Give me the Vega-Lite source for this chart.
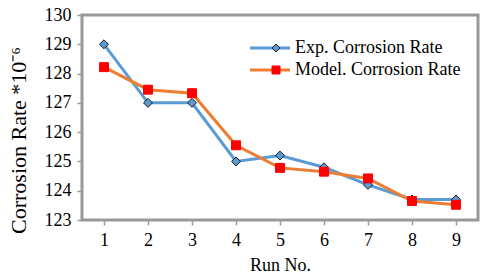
{
  "$schema": "https://vega.github.io/schema/vega-lite/v6.json",
  "width": 396,
  "height": 205,
  "autosize": {"type": "none"},
  "padding": {"left": 82, "top": 15, "right": 2, "bottom": 59},
  "background": "white",
  "config": {
    "font": "Liberation Serif",
    "view": {"stroke": "#999999", "strokeWidth": 3},
    "legend": {"labelFont": "Liberation Serif", "labelFontSize": 18, "labelColor": "#000000", "labelLimit": 300, "padding": 0, "rowPadding": 4},
    "axis": {"grid": false, "domain": false, "tickColor": "#999999", "tickWidth": 1.5, "tickSize": 5,
      "labelFont": "Liberation Serif", "labelFontSize": 18, "labelColor": "#000000",
      "titleFont": "Liberation Serif", "titleFontWeight": "normal", "titleColor": "#000000"}
  },
  "data": {"values": [
    {"run": 1, "series": "Exp. Corrosion Rate", "rate": 129.0},
    {"run": 2, "series": "Exp. Corrosion Rate", "rate": 127.0},
    {"run": 3, "series": "Exp. Corrosion Rate", "rate": 127.0},
    {"run": 4, "series": "Exp. Corrosion Rate", "rate": 125.0},
    {"run": 5, "series": "Exp. Corrosion Rate", "rate": 125.2},
    {"run": 6, "series": "Exp. Corrosion Rate", "rate": 124.8},
    {"run": 7, "series": "Exp. Corrosion Rate", "rate": 124.2},
    {"run": 8, "series": "Exp. Corrosion Rate", "rate": 123.7},
    {"run": 9, "series": "Exp. Corrosion Rate", "rate": 123.7},
    {"run": 1, "series": "Model. Corrosion Rate", "rate": 128.22},
    {"run": 2, "series": "Model. Corrosion Rate", "rate": 127.45},
    {"run": 3, "series": "Model. Corrosion Rate", "rate": 127.33},
    {"run": 4, "series": "Model. Corrosion Rate", "rate": 125.55},
    {"run": 5, "series": "Model. Corrosion Rate", "rate": 124.78},
    {"run": 6, "series": "Model. Corrosion Rate", "rate": 124.65},
    {"run": 7, "series": "Model. Corrosion Rate", "rate": 124.42},
    {"run": 8, "series": "Model. Corrosion Rate", "rate": 123.65},
    {"run": 9, "series": "Model. Corrosion Rate", "rate": 123.52}
  ]},
  "encoding": {
    "x": {"field": "run", "type": "quantitative",
      "scale": {"domain": [0.5, 9.5], "nice": false, "zero": false},
      "axis": {"values": [1, 2, 3, 4, 5, 6, 7, 8, 9], "format": "d", "labelPadding": 6,
        "title": "Run No.", "titleFontSize": 18, "titlePadding": 7}},
    "y": {"field": "rate", "type": "quantitative",
      "scale": {"domain": [123, 130], "nice": false, "zero": false},
      "axis": {"values": [123, 124, 125, 126, 127, 128, 129, 130], "labelPadding": 6,
        "title": "Corrosion Rate *10⁻⁶", "titleFontSize": 22, "titleAngle": -90,
        "titleX": -64, "titleY": 125, "titleAlign": "center", "titleBaseline": "middle"}}
  },
  "layer": [
    {
      "mark": {"type": "line", "strokeWidth": 3},
      "encoding": {
        "color": {"field": "series", "type": "nominal",
          "scale": {"range": ["#5B9BD5", "#ED7D31"]},
          "legend": {"title": null, "orient": "none", "legendX": 179, "legendY": 24,
            "symbolType": "M-20,0H20", "symbolSize": 4, "symbolStrokeWidth": 3,
            "labelOffset": 16}}
      }
    },
    {
      "mark": {"type": "point", "filled": true, "opacity": 1, "strokeWidth": 1, "size": 80},
      "encoding": {
        "fill": {"field": "series", "type": "nominal", "sort": "descending",
          "scale": {"range": ["#FF0000", "#5B9BD5"]},
          "legend": {"title": null, "orient": "none", "legendX": 185, "legendY": 24,
            "values": ["Exp. Corrosion Rate", "Model. Corrosion Rate"],
            "labelExpr": "''", "symbolStrokeWidth": 1, "symbolSize": 64}},
        "stroke": {"field": "series", "type": "nominal", "sort": "descending",
          "scale": {"range": ["#FF0000", "#1a1a1a"]},
          "legend": {"title": null, "orient": "none", "legendX": 185, "legendY": 24,
            "values": ["Exp. Corrosion Rate", "Model. Corrosion Rate"], "labelExpr": "''"}},
        "shape": {"field": "series", "type": "nominal", "sort": "descending",
          "scale": {"range": ["square", "diamond"]},
          "legend": {"title": null, "orient": "none", "legendX": 185, "legendY": 24,
            "values": ["Exp. Corrosion Rate", "Model. Corrosion Rate"], "labelExpr": "''"}}
      }
    }
  ]
}
